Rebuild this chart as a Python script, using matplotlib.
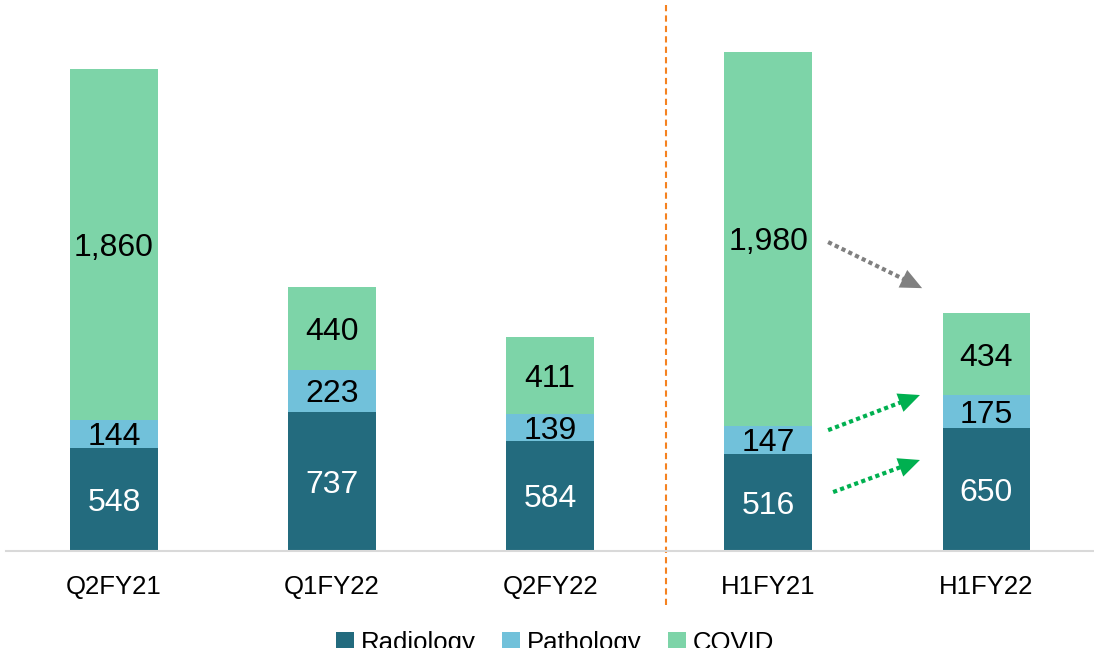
import matplotlib.pyplot as plt
import numpy as np

plt.rcParams['font.family'] = ['Liberation Sans', 'DejaVu Sans']

periods = ["Q2FY21", "Q1FY22", "Q2FY22", "H1FY21", "H1FY22"]
radiology = [548, 737, 584, 516, 650]
pathology = [144, 223, 139, 147, 175]
covid = [1860, 440, 411, 1980, 434]

c_rad = "#236B7E"
c_path = "#71C1DA"
c_cov = "#7DD4A8"

fig = plt.figure(figsize=(10.94, 6.48), dpi=100)
ax = fig.add_axes([6 / 1094, 97 / 648, 1 - 6 / 1094, 1 - 97 / 648])

x = np.arange(len(periods))
w = 0.403
rad = np.array(radiology)
pat = np.array(pathology)
cov = np.array(covid)

ax.bar(x, rad, w, color=c_rad, label="Radiology")
ax.bar(x, pat, w, bottom=rad, color=c_path, label="Pathology")
ax.bar(x, cov, w, bottom=rad + pat, color=c_cov, label="COVID")

for i in range(len(x)):
    ax.text(x[i], rad[i] / 2, f"{rad[i]:,}", ha="center", va="center_baseline",
            color="white", fontsize=23)
    ax.text(x[i], rad[i] + pat[i] / 2, f"{pat[i]:,}", ha="center",
            va="center_baseline", color="black", fontsize=23)
    ax.text(x[i], rad[i] + pat[i] + cov[i] / 2, f"{cov[i]:,}", ha="center",
            va="center_baseline", color="black", fontsize=23)

ax.set_xlim(-0.495, 4.493)
ax.set_ylim(0, 2918)
for s in ["top", "right", "left"]:
    ax.spines[s].set_visible(False)
ax.spines["bottom"].set_color("#D9D9D9")
ax.spines["bottom"].set_linewidth(1.5)
ax.set_yticks([])
ax.set_xticks(x)
ax.set_xticklabels(periods, fontsize=18.5)
ax.tick_params(axis="x", length=0, pad=17)

# separator between quarters and half-years
ax.plot([2.531, 2.531], [-0.098, 0.991], color="#F58220", lw=1.5,
        ls=(0, (3, 2)), transform=ax.get_xaxis_transform(), clip_on=False)

# dotted arrows: line drawn dotted, head drawn solid
arrows = [((3.274, 1636), (3.705, 1392), "#808080"),
          ((3.274, 640), (3.695, 826), "#00B050"),
          ((3.297, 312), (3.695, 482), "#00B050")]
for start, end, col in arrows:
    ax.annotate("", xy=end, xytext=start,
                arrowprops=dict(arrowstyle="-", color=col, lw=3,
                                linestyle=(0, (1, 0.8)), capstyle="butt",
                                shrinkA=0, shrinkB=10))
    ax.annotate("", xy=end, xytext=start,
                arrowprops=dict(arrowstyle="-|>,head_length=0.7,head_width=0.32",
                                color=col, lw=0, mutation_scale=22,
                                shrinkA=0, shrinkB=0))

fig.legend(loc="center", bbox_to_anchor=(555 / 1094, 1 - 643 / 648), ncol=3,
           frameon=False, fontsize=18.5, handlelength=0.7, handleheight=0.7,
           handletextpad=0.25, columnspacing=1.05)

fig.savefig("out.png", dpi=100)
